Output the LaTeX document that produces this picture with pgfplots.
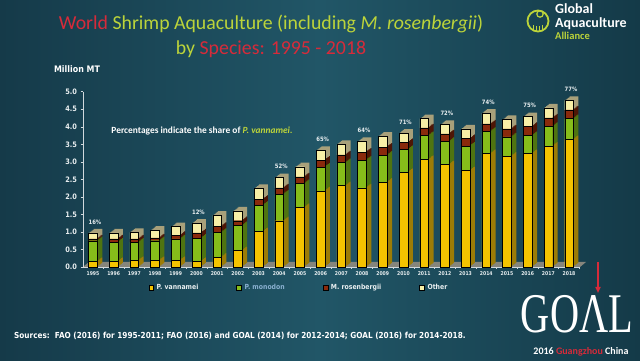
\documentclass[border=0pt]{standalone}
\usepackage{fontspec}
\setmainfont{Carlito}
\newfontfamily\dvc[FakeStretch=0.88]{DejaVu Sans}
\newfontfamily\lser{Liberation Serif}
\usepackage{pgfplots}
\usepackage{pgfplotstable}
\pgfplotsset{compat=1.18}
\usetikzlibrary{arrows.meta}

\definecolor{bgl}{HTML}{153A49}
\definecolor{bgm}{HTML}{215667}
\definecolor{bgr}{HTML}{143A48}
\definecolor{tred}{HTML}{D62B3A}
\definecolor{tgrn}{HTML}{BCD43A}
\definecolor{fv}{HTML}{F4C300}
\definecolor{fm}{HTML}{86BD1A}
\definecolor{fr}{HTML}{8A2A0C}
\definecolor{fo}{HTML}{F7EFA6}
\definecolor{sv}{HTML}{9C7C06}
\definecolor{sm}{HTML}{4F7410}
\definecolor{sr}{HTML}{4E1606}
\definecolor{so}{HTML}{A8A07A}
\definecolor{floorc}{HTML}{85857C}
\definecolor{axcol}{HTML}{D0D8DC}
\definecolor{ticktext}{HTML}{E8EEF0}
\definecolor{monotext}{HTML}{8AB0D0}

\pgfplotstableread{
i v m r o
0 0.16 0.59 0.05 0.17
1 0.16 0.55 0.09 0.17
2 0.19 0.52 0.09 0.19
3 0.19 0.56 0.08 0.22
4 0.19 0.61 0.10 0.25
5 0.16 0.66 0.15 0.28
6 0.28 0.71 0.17 0.32
7 0.47 0.71 0.14 0.28
8 1.01 0.75 0.17 0.31
9 1.32 0.76 0.18 0.29
10 1.70 0.68 0.19 0.29
11 2.17 0.68 0.20 0.28
12 2.32 0.66 0.22 0.30
13 2.26 0.79 0.23 0.30
14 2.42 0.77 0.23 0.31
15 2.70 0.65 0.20 0.27
16 3.07 0.68 0.22 0.26
17 2.92 0.66 0.22 0.27
18 2.75 0.70 0.21 0.28
19 3.24 0.63 0.21 0.31
20 3.16 0.55 0.23 0.27
21 3.24 0.51 0.26 0.28
22 3.45 0.56 0.24 0.29
23 3.64 0.59 0.25 0.27
}\data

\pgfplotsset{
  base/.style={
    scale only axis, width=496.4pt, height=175.3pt,
    xmin=-0.48, xmax=23.5, ymin=0, ymax=5,
    at={(83pt,94pt)}, anchor=south west,
    ybar stacked, bar width=8.7pt,
  },
}

\newcommand\sideaxis[1]{%
\begin{axis}[base, hide axis, xshift=#1*1pt, yshift=#1*0.8pt]
\addplot[fill=sv, draw=none] table[x=i,y=v]{\data};
\addplot[fill=sm, draw=none] table[x=i,y=m]{\data};
\addplot[fill=sr, draw=none] table[x=i,y=r]{\data};
\addplot[fill=so, draw=none] table[x=i,y=o]{\data};
\end{axis}}

\newcommand\pct[3]{\node[font=\dvc\bfseries\fontsize{6}{7}\selectfont, text=ticktext] at (axis cs:#1,#2) [xshift=2pt, yshift=11pt] {#3\%};}

\begin{document}
\begin{tikzpicture}[x=1pt,y=1pt]
% background
\shade[left color=bgl, right color=bgr, middle color=bgm] (0,0) rectangle (640,361);

% title
\node[anchor=base, inner sep=0pt, font=\fontsize{19.8}{22}\selectfont] at (271,331)
  {\textcolor{tred}{World} \textcolor{tgrn}{Shrimp Aquaculture (including \textit{M. rosenbergii})}};
\node[anchor=base, inner sep=0pt, font=\fontsize{19.8}{22}\selectfont] at (271,306)
  {\textcolor{tgrn}{by} \textcolor{tred}{Species: 1995 - 2018}};

% GAA logo
\draw[tgrn, line width=1.8pt] (538,340) circle (10.5);
\draw[tgrn, line width=1.2pt] (540,347) circle (3.2);
\draw[tgrn, line width=1pt] (533,336) -- (533,331) (536,335) -- (536,330) (539,335) -- (539,330) (542,336) -- (542,331);
\node[anchor=base west, inner sep=0pt, text height=9pt, text depth=0pt, text=white, font=\bfseries\fontsize{14}{14}\selectfont] at (555,347.5) {Global};
\node[anchor=base west, inner sep=0pt, text height=9pt, text depth=0pt, text=white, font=\bfseries\fontsize{14}{14}\selectfont] at (555,333) {Aquaculture};
\node[anchor=base west, inner sep=0pt, text height=7pt, text depth=0pt, text=tgrn, font=\bfseries\fontsize{10.5}{11}\selectfont] at (555,321) {Alliance};

% y unit
\node[anchor=base, inner sep=0pt, text=white, font=\dvc\bfseries\fontsize{9}{9}\selectfont] at (77,288) {Million MT};

% floor
\fill[floorc] (83,94) -- (580,94) -- (586,99) -- (89,99) -- cycle;

\sideaxis{5}
\sideaxis{4}
\sideaxis{3}
\sideaxis{2}
\sideaxis{1}

\begin{axis}[base, clip=false,
  axis x line*=bottom, axis y line*=left,
  axis line style={draw=axcol, line width=0.6pt},
  tick align=outside,
  xtick={0,...,23},
  xticklabels={1995,1996,1997,1998,1999,2000,2001,2002,2003,2004,2005,2006,2007,2008,2009,2010,2011,2012,2013,2014,2015,2016,2017,2018},
  major x tick style={draw=none},
  minor xtick={-0.5,0.5,...,23.5},
  minor tick length=2pt,
  major tick length=2.5pt,
  tick style={draw=axcol, line width=0.5pt},
  ytick={0,0.5,...,5},
  /pgf/number format/assume math mode=true,
  yticklabel style={/pgf/number format/.cd, fixed, fixed zerofill, precision=1, /tikz/.cd,
    font=\dvc\bfseries\fontsize{7.5}{8}\selectfont, text=ticktext},
  xticklabel style={font=\dvc\bfseries\fontsize{5.2}{6}\selectfont, text=ticktext, yshift=1pt},
  legend columns=4,
  legend cell align=left,
  legend image code/.code={\fill[#1] (0pt,-2.4pt) rectangle (4.8pt,2.4pt);},
  legend style={at={(0.435,-0.12)}, anchor=center, draw=none, fill=none,
    font=\dvc\bfseries\fontsize{7}{8}\selectfont, text=ticktext,
    /tikz/every even column/.append style={column sep=36pt},
    /tikz/every odd column/.append style={column sep=1pt}},
]
\addplot[fill=fv, draw=black, line width=0.4pt] table[x=i,y=v]{\data};
\addlegendentry{P. vannamei}
\addplot[fill=fm, draw=black, line width=0.4pt] table[x=i,y=m]{\data};
\addlegendentry{\textcolor{monotext}{P. monodon}}
\addplot[fill=fr, draw=black, line width=0.4pt] table[x=i,y=r]{\data};
\addlegendentry{M. rosenbergii}
\addplot[fill=fo, draw=black, line width=0.4pt] table[x=i,y=o]{\data};
\addlegendentry{Other}

\pct{0}{0.97}{16}
\pct{5}{1.25}{12}
\pct{9}{2.55}{52}
\pct{11}{3.33}{65}
\pct{13}{3.58}{64}
\pct{15}{3.82}{71}
\pct{17}{4.07}{72}
\pct{19}{4.39}{74}
\pct{21}{4.29}{75}
\pct{23}{4.75}{77}
\end{axis}

% annotation
\node[anchor=base, inner sep=0pt, text=white, font=\bfseries\fontsize{9.4}{10}\selectfont] at (202,227)
  {Percentages indicate the share of \textcolor{tgrn}{\textit{P. vannamei.}}};

% sources
\node[anchor=base west, inner sep=0pt, text=white, font=\dvc\bfseries\fontsize{8.3}{9}\selectfont] at (14,22)
  {Sources:\ \ FAO (2016) for 1995-2011; FAO (2016) and GOAL (2014) for 2012-2014; GOAL (2016) for 2014-2018.};

% GOAL logo
\node[anchor=base, inner sep=0pt, text depth=0pt, text=white, font=\lser\fontsize{56}{56}\selectfont, xscale=0.72] at (577,28) {GOΛL};
\draw[tred, line width=1.6pt, -{Triangle[length=6pt,width=5pt]}] (598,99) -- (598,68);
\node[anchor=base, inner sep=0pt, text height=7pt, font=\bfseries\fontsize{10}{10}\selectfont] at (581,6)
  {\textcolor{white}{2016} \textcolor{tred}{Guangzhou} \textcolor{white}{China}};
\end{tikzpicture}
\end{document}
